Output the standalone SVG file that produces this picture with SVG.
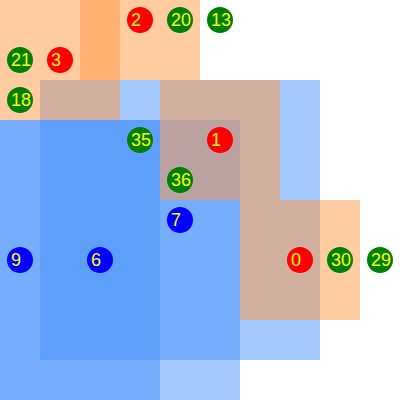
<svg xmlns="http://www.w3.org/2000/svg" width="400" height="400" viewBox="0 0 400 400">
<style>
.b{fill:rgb(71,145,251);fill-opacity:0.5}
.o{fill:rgb(255,151,67);fill-opacity:0.5}
.r{fill:#ff0000}
.g{fill:#008000}
.u{fill:#0000ff}
text{fill:#ffff00;font-family:"Liberation Sans",Arial,sans-serif;font-size:18px}
</style>
<rect width="400" height="400" fill="#ffffff"/>
<g id="regions">
<rect class="b" x="40" y="80" width="280" height="280"/>
<rect class="b" x="0" y="120" width="240" height="280"/>
<rect class="b" x="0" y="120" width="160" height="280"/>
<rect class="o" x="0" y="0" width="120" height="120"/>
<rect class="o" x="80" y="0" width="120" height="80"/>
<rect class="o" x="160" y="80" width="120" height="120"/>
<rect class="o" x="240" y="200" width="120" height="120"/>
</g>
<g id="n2"><circle class="r" cx="140" cy="20" r="13"/><text x="131" y="26">2</text></g>
<g id="n20"><circle class="g" cx="180" cy="20" r="13"/><text x="171" y="26">20</text></g>
<g id="n13"><circle class="g" cx="220" cy="20" r="13"/><text x="211" y="26">13</text></g>
<g id="n21"><circle class="g" cx="20" cy="60" r="13"/><text x="11" y="66">21</text></g>
<g id="n3"><circle class="r" cx="60" cy="60" r="13"/><text x="51" y="66">3</text></g>
<g id="n18"><circle class="g" cx="20" cy="100" r="13"/><text x="11" y="106">18</text></g>
<g id="n35"><circle class="g" cx="140" cy="140" r="13"/><text x="131" y="146">35</text></g>
<g id="n1"><circle class="r" cx="220" cy="140" r="13"/><text x="211" y="146">1</text></g>
<g id="n36"><circle class="g" cx="180" cy="180" r="13"/><text x="171" y="186">36</text></g>
<g id="n7"><circle class="u" cx="180" cy="220" r="13"/><text x="171" y="226">7</text></g>
<g id="n9"><circle class="u" cx="20" cy="260" r="13"/><text x="11" y="266">9</text></g>
<g id="n6"><circle class="u" cx="100" cy="260" r="13"/><text x="91" y="266">6</text></g>
<g id="n0"><circle class="r" cx="300" cy="260" r="13"/><text x="291" y="266">0</text></g>
<g id="n30"><circle class="g" cx="340" cy="260" r="13"/><text x="331" y="266">30</text></g>
<g id="n29"><circle class="g" cx="380" cy="260" r="13"/><text x="371" y="266">29</text></g>
<g id="connectors"></g>
</svg>
